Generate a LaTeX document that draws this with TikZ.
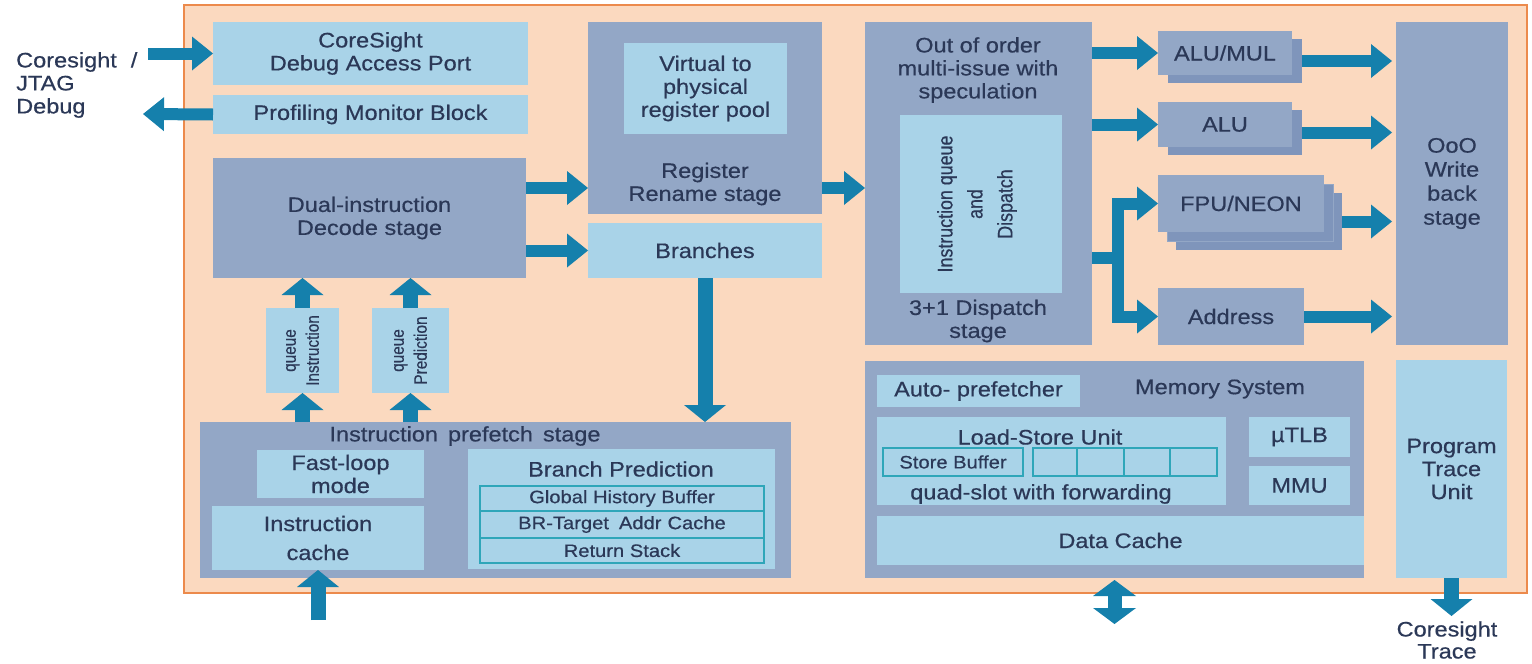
\documentclass[tikz,border=0pt]{standalone}
\usepackage{fontspec}
\setmainfont{Liberation Sans}[FakeStretch=1.12,FakeBold=0.5]
\newfontfamily\rotfont{Liberation Sans}[FakeStretch=0.85,FakeBold=0.5]
\usetikzlibrary{arrows.meta,calc}
\definecolor{peach}{HTML}{FBD9BF}
\definecolor{rim}{HTML}{EC8A4C}
\definecolor{slate}{HTML}{93A7C6}
\definecolor{slatedk}{HTML}{7F95BB}
\definecolor{sky}{HTML}{A9D3E8}
\definecolor{flow}{HTML}{1580AC}
\definecolor{ink}{HTML}{2B3857}
\definecolor{cell}{HTML}{2FA6B9}
\begin{document}
\begin{tikzpicture}[x=1pt,y=-1pt,
  box/.style={inner sep=0pt, outer sep=0pt, anchor=north west, text=ink,
              font=\fontsize{21}{23}\selectfont, align=center},
  dk/.style={box, fill=slate},
  dkshade/.style={box, fill=slatedk},
  lt/.style={box, fill=sky},
  cellbox/.style={box, draw=cell, line width=1.5pt, font=\fontsize{18}{20}\selectfont},
  txt/.style={text=ink, font=\fontsize{21}{23}\selectfont, align=center, inner sep=0pt},
  rottxt/.style={text=ink, font=\rotfont\fontsize{21}{30}\selectfont, align=center, inner sep=0pt, rotate=90},
  harrow/.style={draw=flow, line width=12pt,
     -{Triangle[width=34pt,length=21pt,line width=0pt]}},
  varrow/.style={draw=flow, line width=15pt,
     -{Triangle[width=42pt,length=17pt,line width=0pt]}},
  dblarrow/.style={draw=flow, line width=14pt,
     {Triangle[width=43pt,length=16pt,line width=0pt]}-{Triangle[width=43pt,length=16pt,line width=0pt]}},
  shaftline/.style={draw=flow, line width=12pt}
]
\fill[white] (0,0) rectangle (1532,664);
\useasboundingbox (0,0) rectangle (1532,664);

% core outline
\node[box, fill=peach, draw=rim, line width=2.5pt, minimum width=1343pt, minimum height=588pt] (core) at (184,5) {};

% debug blocks
\node[lt, minimum width=315pt, minimum height=63pt] (dap) at (213,22) {CoreSight\\Debug Access Port};
\node[lt, minimum width=315pt, minimum height=39pt] (prof) at (213,95) {Profiling Monitor Block};
\node[txt, anchor=west, align=left] (jtag) at (16,85) {Coresight\hspace{14pt}/\\JTAG\\Debug};

% decode and rename
\node[dk, minimum width=313pt, minimum height=120pt] (decode) at (213,158) {Dual-instruction\\Decode stage};
\node[dk, minimum width=234pt, minimum height=192pt] (rename) at (588,22) {};
\node[lt, minimum width=163pt, minimum height=91pt] (virt) at (624,43) {Virtual to\\physical\\register pool};
\node[txt] (renamelbl) at (705,184) {Register\\Rename stage};
\node[lt, minimum width=234pt, minimum height=55pt] (branches) at (588,223) {Branches};

% issue stage
\node[dk, minimum width=227pt, minimum height=323pt] (ooo) at (865,22) {};
\node[txt] (ooolbl) at (978,70) {Out of order\\multi-issue with\\speculation};
\node[lt, minimum width=162pt, minimum height=178pt] (dispatch) at (900,115) {};
\node[rottxt] (dispatchlbl) at ([xshift=-4pt]dispatch.center) {Instruction queue\\and\\Dispatch};
\node[txt] (stagelbl) at (978,321) {3+1 Dispatch\\stage};

% execution units
\node[dkshade, minimum width=134pt, minimum height=44pt] (alumulsh) at (1168,39) {};
\node[dk, minimum width=134pt, minimum height=44pt] (alumul) at (1158,31) {ALU/MUL};
\node[dkshade, minimum width=134pt, minimum height=45pt] (alush) at (1168,110) {};
\node[dk, minimum width=134pt, minimum height=45pt] (alu) at (1158,102) {ALU};
\node[dkshade, minimum width=166pt, minimum height=57pt] (fpu3) at (1176,193) {};
\node[dkshade, draw=slate, line width=1pt, minimum width=166pt, minimum height=57pt] (fpu2) at (1167,184) {};
\node[dk, minimum width=166pt, minimum height=57pt] (fpu) at (1158,175) {FPU/NEON};
\node[dk, minimum width=146pt, minimum height=57pt] (address) at (1158,288) {Address};
\node[dk, minimum width=112pt, minimum height=323pt, font=\fontsize{21}{24}\selectfont] (wb) at (1396,22) {OoO\\Write\\back\\stage};

% memory system
\node[dk, minimum width=499pt, minimum height=217pt] (mem) at (865,361) {};
\node[txt] (memlbl) at (1220,389) {Memory System};
\node[lt, minimum width=203pt, minimum height=32pt] (autopf) at (877,375) {Auto- prefetcher};
\node[lt, minimum width=349pt, minimum height=88pt] (lsu) at (877,417) {};
\node[txt] (lsulbl) at (1040,437) {Load-Store Unit};
\node[txt] (quadlbl) at (1041,494) {quad-slot with forwarding};
\node[cellbox, minimum width=140pt, minimum height=28pt] (storebuf) at (883,448) {Store Buffer};
\node[cellbox, minimum width=44pt, minimum height=28pt] (slot1) at (1033,448) {};
\node[cellbox, minimum width=47pt, minimum height=28pt] (slot2) at (1077,448) {};
\node[cellbox, minimum width=46pt, minimum height=28pt] (slot3) at (1124,448) {};
\node[cellbox, minimum width=47pt, minimum height=28pt] (slot4) at (1170,448) {};
\node[lt, minimum width=101pt, minimum height=40pt] (utlb) at (1249,417) {µTLB};
\node[lt, minimum width=101pt, minimum height=39pt] (mmu) at (1249,466) {MMU};
\node[lt, minimum width=487pt, minimum height=49pt] (dcache) at (877,516) {Data Cache};
\node[lt, minimum width=111pt, minimum height=218pt] (ptu) at (1396,360) {Program\\Trace\\Unit};
\node[txt, font=\fontsize{21}{22}\selectfont] (tracelbl) at (1447,640) {Coresight\\Trace};

% prefetch stage
\node[dk, minimum width=591pt, minimum height=156pt] (prefetch) at (200,422) {};
\node[txt] (prefetchlbl) at (465,436) {Instruction\hspace{10pt}prefetch\hspace{10pt}stage};
\node[lt, minimum width=167pt, minimum height=48pt] (fastloop) at (257,450) {Fast-loop\\mode};
\node[lt, minimum width=212pt, minimum height=64pt, font=\fontsize{21}{29}\selectfont] (icache) at (212,506) {Instruction\\cache};
\node[lt, minimum width=307pt, minimum height=120pt] (bp) at (468,449) {};
\node[txt] (bplbl) at (621,469) {Branch Prediction};
\node[cellbox, minimum width=284pt, minimum height=25pt] (ghb) at (480,486) {Global History Buffer};
\node[cellbox, minimum width=284pt, minimum height=27pt] (btac) at (480,511) {BR-Target\hspace{10pt}Addr\hspace{6pt}Cache};
\node[cellbox, minimum width=284pt, minimum height=25pt] (rs) at (480,538) {Return Stack};

% queues
\node[lt, minimum width=73pt, minimum height=85pt] (iq) at (266,308) {};
\node[rottxt, font=\rotfont\fontsize{18}{23}\selectfont] (iqlbl) at (iq.center) {queue\\Instruction};
\node[lt, minimum width=77pt, minimum height=85pt] (pq) at (372,308) {};
\node[rottxt, font=\rotfont\fontsize{18}{23}\selectfont] (pqlbl) at (pq.center) {queue\\Prediction};

% connectors
\coordinate (jtagsrc) at (148,53.5);
\coordinate (profdst) at (143,114);
\draw[harrow] (jtagsrc) -- (dap.west);
\draw[harrow] (prof.west) -- (profdst);

\draw[harrow] (decode.east |- 0,188) -- (rename.west |- 0,188);
\draw[harrow] (decode.east |- branches.west) -- (branches.west);
\draw[harrow] (rename.east |- 0,188) -- (ooo.west |- 0,188);

\draw[harrow] (ooo.east |- alumul.west) -- (alumul.west);
\draw[harrow] (ooo.east |- alu.west) -- (alu.west);
\coordinate (fork) at (1118,258);
\draw[shaftline] (ooo.east |- fork) -- (fork);
\draw[shaftline, line cap=rect] (fork |- fpu.west) -- (fork |- address.west);
\draw[harrow] (fork |- fpu.west) -- (fpu.west);
\draw[harrow] (fork |- address.west) -- (address.west);

\draw[harrow, shorten >=4pt] (alumulsh.east) -- (wb.west |- alumulsh.east);
\draw[harrow, shorten >=4pt] (alush.east) -- (wb.west |- alush.east);
\draw[harrow, shorten >=4pt] (fpu3.east) -- (wb.west |- fpu3.east);
\draw[harrow, shorten >=4pt] (address.east) -- (wb.west |- address.east);

\draw[varrow] (branches.south) -- (branches.south |- prefetch.north);
\draw[varrow] (iq.north) -- (iq.north |- decode.south);
\draw[varrow] (iq.south |- prefetch.north) -- (iq.south);
\draw[varrow] (pq.north) -- (pq.north |- decode.south);
\draw[varrow] (pq.south |- prefetch.north) -- (pq.south);

\coordinate (icsrc) at (318,620);
\draw[varrow] (icsrc) -- (icache.south);

\coordinate (memio) at (1114.5,624);
\draw[dblarrow, shorten <=2pt] (mem.south) -- (memio);

\coordinate (tracedst) at (1451.5,616);
\draw[varrow] (ptu.south) -- (tracedst);
\end{tikzpicture}
\end{document}
